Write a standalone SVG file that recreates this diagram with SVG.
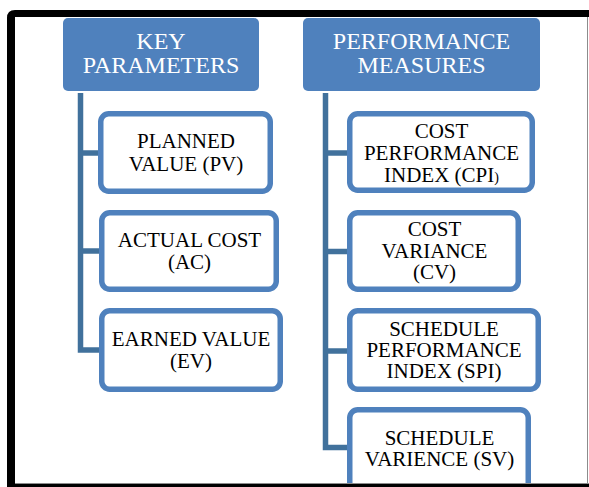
<svg xmlns="http://www.w3.org/2000/svg" width="589" height="487" viewBox="0 0 589 487">
  <style>
    .head { fill: #4F81BD; }
    .headtxt { font-family: "Liberation Serif", "Times New Roman", serif; font-size: 24px; fill: #FFFFFF; text-anchor: middle; }
    .box { fill: #FFFFFF; stroke: #4F81BD; stroke-width: 5.5; }
    .txt { font-family: "Liberation Serif", "Times New Roman", serif; font-size: 21px; fill: #000000; text-anchor: middle; }
    .link { fill: none; stroke: #41719C; stroke-width: 5.5; stroke-linejoin: miter; stroke-linecap: butt; }
  </style>

  <rect width="589" height="487" fill="#FFFFFF"/>

  <!-- page frame -->
  <g id="frame">
    <path d="M7,487 V18 Q7,10 15,10 H589 V17 H15 V487 Z" fill="#000000"/>
    <rect x="7" y="484" width="582" height="3" fill="#000000"/>
    <line x1="15" y1="483.5" x2="589" y2="483.5" stroke="#8C8C8C" stroke-width="1"/>
    <line x1="587.5" y1="17" x2="587.5" y2="484" stroke="#8C8C8C" stroke-width="1"/>
  </g>

  <!-- connectors -->
  <g id="connectors">
    <path class="link" d="M80.5,93 V350 H99 M80.5,153 H99 M80.5,251 H99"/>
    <path class="link" d="M325.5,93 V447.5 H347 M325.5,153 H347 M325.5,251.5 H347 M325.5,351 H347"/>
  </g>

  <!-- column 1 -->
  <g id="key-parameters">
    <rect class="head" x="63" y="18" width="196" height="73" rx="5"/>
    <text class="headtxt" x="161" y="49">KEY</text>
    <text class="headtxt" x="161" y="73">PARAMETERS</text>
  </g>
  <g id="planned-value">
    <rect class="box" x="100.75" y="113.75" width="169.5" height="77.5" rx="8"/>
    <text class="txt" x="186" y="148">PLANNED</text>
    <text class="txt" x="186" y="171">VALUE (PV)</text>
  </g>
  <g id="actual-cost">
    <rect class="box" x="101.75" y="212.75" width="174.5" height="76.5" rx="8"/>
    <text class="txt" x="189.5" y="247">ACTUAL COST</text>
    <text class="txt" x="189.5" y="269">(AC)</text>
  </g>
  <g id="earned-value">
    <rect class="box" x="101.75" y="310.75" width="178.5" height="78.5" rx="8"/>
    <text class="txt" x="191" y="346">EARNED VALUE</text>
    <text class="txt" x="191" y="368">(EV)</text>
  </g>

  <!-- column 2 -->
  <g id="performance-measures">
    <rect class="head" x="303" y="18" width="237" height="73" rx="5"/>
    <text class="headtxt" x="421.5" y="49">PERFORMANCE</text>
    <text class="headtxt" x="421.5" y="73">MEASURES</text>
  </g>
  <g id="cpi">
    <rect class="box" x="349.75" y="113.75" width="182.5" height="76.5" rx="8"/>
    <text class="txt" x="441.5" y="138">COST</text>
    <text class="txt" x="441.5" y="160">PERFORMANCE</text>
    <text class="txt" x="441.5" y="182">INDEX (CPI<tspan font-size="14">)</tspan></text>
  </g>
  <g id="cv">
    <rect class="box" x="349.75" y="212.75" width="168.5" height="76.5" rx="8"/>
    <text class="txt" x="434.5" y="235.5">COST</text>
    <text class="txt" x="434.5" y="257.5">VARIANCE</text>
    <text class="txt" x="434.5" y="279">(CV)</text>
  </g>
  <g id="spi">
    <rect class="box" x="349.75" y="310.75" width="188.5" height="78.5" rx="8"/>
    <text class="txt" x="444" y="335.5">SCHEDULE</text>
    <text class="txt" x="444" y="357">PERFORMANCE</text>
    <text class="txt" x="444" y="378">INDEX (SPI)</text>
  </g>
  <g id="sv">
    <rect class="box" x="349.75" y="409.75" width="178.5" height="90" rx="8"/>
    <text class="txt" x="439.5" y="445">SCHEDULE</text>
    <text class="txt" x="439.5" y="466">VARIENCE (SV)</text>
  </g>

  <!-- bottom edge of the frame sits over the last box -->
  <g id="frame-bottom">
    <rect x="7" y="484" width="582" height="3" fill="#000000"/>
    <line x1="15" y1="483.5" x2="588" y2="483.5" stroke="#8C8C8C" stroke-width="1"/>
  </g>
</svg>
